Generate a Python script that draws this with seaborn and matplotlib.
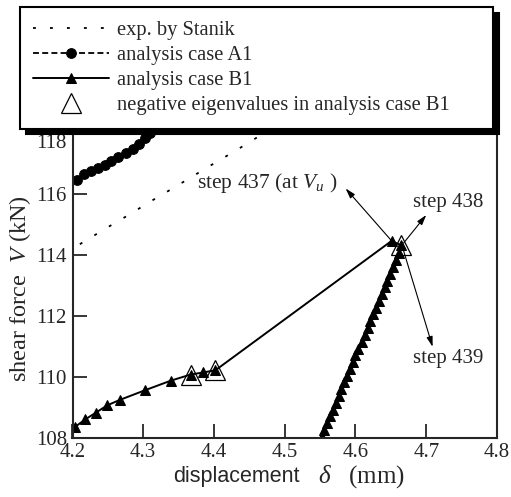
import matplotlib
matplotlib.use("Agg")
import matplotlib.pyplot as plt
import seaborn as sns

# experiment by Stanik (dotted)
exp_x = [4.19, 4.22, 4.25, 4.28, 4.31, 4.34, 4.37, 4.40, 4.43, 4.46, 4.49, 4.52]
exp_y = [114.05, 114.48, 114.90, 115.31, 115.74, 116.15, 116.57, 116.99, 117.40, 117.83, 118.24, 118.66]

# analysis case A1 (dashed, circles)
a1_x = [4.206, 4.216, 4.226, 4.236, 4.246, 4.255, 4.265, 4.275, 4.285, 4.294, 4.302, 4.310, 4.318, 4.326, 4.334]
a1_y = [116.45, 116.63, 116.73, 116.84, 116.95, 117.07, 117.20, 117.32, 117.46, 117.63, 117.82, 118.00, 118.20, 118.42, 118.66]

# analysis case B1 (solid, triangles): ascending branch, peak, then snap-back branch
b1_x = [4.190, 4.204, 4.218, 4.233, 4.249, 4.267, 4.303, 4.339, 4.367, 4.385, 4.402,
        4.651, 4.665,
        4.661, 4.657, 4.653, 4.649, 4.645, 4.641, 4.637, 4.633, 4.629, 4.625,
        4.620, 4.617, 4.613, 4.609, 4.604, 4.600, 4.596, 4.592, 4.588, 4.584,
        4.580, 4.576, 4.572, 4.568, 4.564, 4.560, 4.556, 4.552, 4.547]
b1_y = [108.12, 108.36, 108.60, 108.82, 109.06, 109.24, 109.56, 109.87, 110.07, 110.14, 110.21,
        114.45, 114.30,
        114.05, 113.82, 113.60, 113.37, 113.15, 112.93, 112.70, 112.48, 112.26, 112.04,
        111.81, 111.59, 111.37, 111.15, 110.92, 110.70, 110.48, 110.26, 110.03, 109.81,
        109.59, 109.37, 109.14, 108.92, 108.70, 108.48, 108.26, 108.03, 107.78]

# steps with negative eigenvalues in B1
neg_x = [4.367, 4.402, 4.665]
neg_y = [110.07, 110.21, 114.30]

x_ticks = [4.2, 4.3, 4.4, 4.5, 4.6, 4.7, 4.8]
y_ticks = [108, 110, 112, 114, 116]
top_label = 118  # its tick sits under the legend, only the number shows

sns.set_style("ticks")
serif = ["Liberation Serif", "DejaVu Serif"]
plt.rcParams["font.family"] = serif
plt.rcParams["mathtext.fontset"] = "custom"
plt.rcParams["mathtext.rm"] = "Liberation Serif"
plt.rcParams["mathtext.it"] = "Liberation Serif:italic"
plt.rcParams["mathtext.bf"] = "Liberation Serif:bold"

fig = plt.figure(figsize=(5.11, 4.97), dpi=100)
ax = fig.add_axes([72.5 / 511, 1 - 437.7 / 497, (497 - 72.5) / 511, (437.7 - 96) / 497])

sns.lineplot(x=exp_x, y=exp_y, ax=ax, sort=False, estimator=None, color="black",
             linewidth=1.3, linestyle=(0, (1.6, 7.8)), label="exp. by Stanik")
sns.lineplot(x=a1_x, y=a1_y, ax=ax, sort=False, estimator=None, color="black",
             linewidth=1.3, linestyle=(0, (3.3, 1.8)), marker="o", markersize=7,
             markeredgecolor="black", markerfacecolor="black", label="analysis case A1")
sns.lineplot(x=b1_x, y=b1_y, ax=ax, sort=False, estimator=None, color="black",
             linewidth=1.4, marker="^", markersize=7,
             markeredgecolor="black", markerfacecolor="black", label="analysis case B1")
sns.lineplot(x=neg_x, y=neg_y, ax=ax, sort=False, estimator=None, color="black",
             linestyle="none", marker="^", markersize=15, markeredgewidth=0.9,
             markeredgecolor="black", markerfacecolor="none",
             label="negative eigenvalues in analysis case B1")

ax.set_xlim(4.2, 4.8)
ax.set_ylim(108, 119.2)
ax.set_xticks(x_ticks)
ax.set_xticklabels([f"{v:.1f}" for v in x_ticks], fontfamily=serif)
ax.set_yticks(y_ticks)
ax.set_yticklabels([str(v) for v in y_ticks], fontfamily=serif)
ax.tick_params(direction="in", length=10, width=1.3, labelsize=15)
ax.tick_params(axis="y", pad=4)
ax.tick_params(axis="x", pad=4)
ax.annotate(str(top_label), xy=(0, top_label), xycoords=ax.get_yaxis_transform(),
            xytext=(-4, -7.5), textcoords="offset points", ha="right", va="center",
            fontsize=15)
for side in ["left", "bottom", "right"]:
    ax.spines[side].set_linewidth(1.5)
ax.spines["top"].set_visible(False)

# x label: sans-serif word, italic serif delta and serif unit
ax.set_xlabel("")
fig.text(173 / 511, 1 - 482 / 497, "displacement", fontsize=15.5,
         family=["Liberation Sans", "DejaVu Sans"], ha="left", va="baseline")
fig.text(318 / 511, 1 - 483 / 497, r"$\delta$   (mm)", fontsize=18,
         ha="left", va="baseline")
ax.set_ylabel(r"shear force  $V$ (kN)", fontsize=17.5)
ax.yaxis.set_label_coords(-0.092, 0.435)

arrow = dict(arrowstyle="-|>,head_length=0.6,head_width=0.18", color="black", lw=0.8,
             shrinkA=0, shrinkB=0)
ax.annotate("", xy=(4.586, 116.17), xytext=(4.650, 114.48), arrowprops=arrow)
ax.annotate("", xy=(4.700, 115.30), xytext=(4.668, 114.38), arrowprops=arrow)
ax.annotate("", xy=(4.709, 110.98), xytext=(4.667, 114.20), arrowprops=arrow)
ax.text(4.574, 116.35, r"step 437 (at $V_u$ )", fontsize=15.5, ha="right", va="center")
ax.text(4.681, 115.72, "step 438", fontsize=15, ha="left", va="center")
ax.text(4.681, 110.60, "step 439", fontsize=15, ha="left", va="center")

handles, labels = ax.get_legend_handles_labels()
leg = ax.legend(handles, labels, loc="upper left",
                bbox_to_anchor=(20 / 511, 1 - 7 / 497, (493 - 20) / 511, 0),
                bbox_transform=fig.transFigure, mode="expand", borderaxespad=0,
                fontsize=14.8, handlelength=3.7, handletextpad=0.35, labelspacing=0.28,
                borderpad=0.65, fancybox=False, framealpha=1, edgecolor="black",
                shadow={"ox": 4, "oy": -4, "facecolor": "black",
                        "edgecolor": "black", "alpha": 1})
leg.get_frame().set_linewidth(1.5)

fig.savefig("out.png", dpi=100)
